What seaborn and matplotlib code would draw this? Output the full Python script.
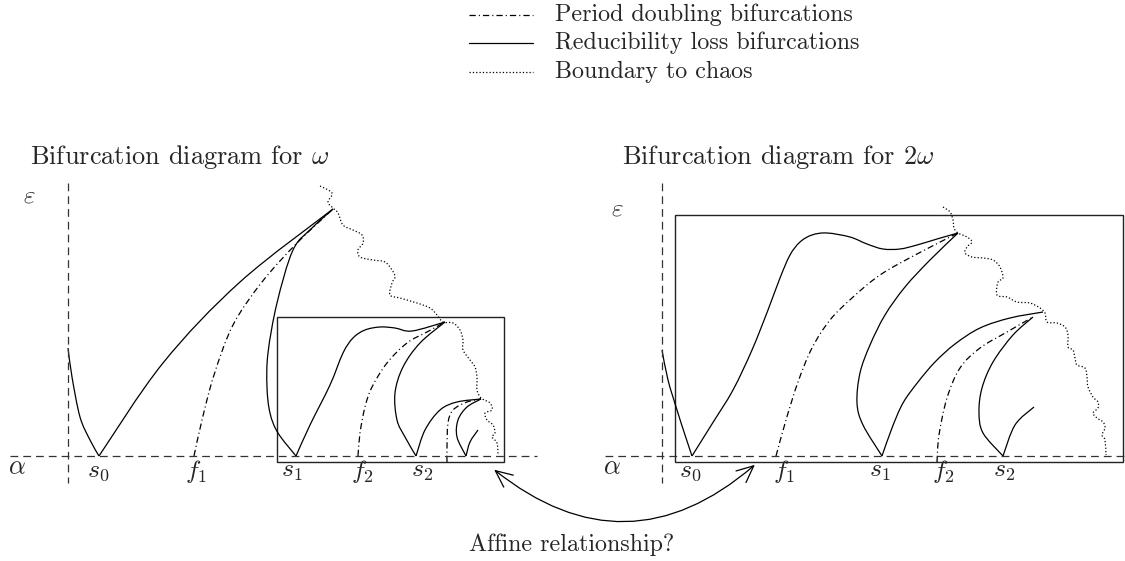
import numpy as np
import matplotlib
matplotlib.use("Agg")
import matplotlib.pyplot as plt
import seaborn as sns
from matplotlib.path import Path
from matplotlib.patches import PathPatch, Rectangle, FancyArrowPatch

# ---- chart data (pixel positions of the schematic, y grows downward) ----
legend_labels = ["Period doubling bifurcations",
                 "Reducibility loss bifurcations",
                 "Boundary to chaos"]
legend_y = [15, 43, 72]

left_title = r"Bifurcation diagram for $\omega$"
right_title = r"Bifurcation diagram for $2\omega$"

left_ticks = [r"$s_0$", r"$f_1$", r"$s_1$", r"$f_2$", r"$s_2$"]
left_tick_x = [98, 196, 292, 362, 422]
right_ticks = [r"$s_0$", r"$f_1$", r"$s_1$", r"$f_2$", r"$s_2$"]
right_tick_x = [690, 784, 880, 943, 1004]

# left diagram
left_s0_left = [(68, 348), (72, 377), (80, 417), (90, 440), (99, 456)]
left_s0_right = [(99, 456), (163, 363), (240, 282), (333, 209)]
left_f1 = [(194, 456), (202, 420), (214, 375), (233, 325), (262, 282),
           (297, 243), (333, 209)]
left_s1_left = [(333, 209), (312, 228), (293, 250), (277, 303), (268, 353),
                (267, 387), (270, 413), (278, 433), (296, 456)]
inset_s1_right = [(296, 456), (310, 425), (330, 385), (343, 353), (353, 338),
                  (365, 330), (380, 327), (395, 328), (412, 331), (445, 322)]
inset_f2 = [(358, 456), (360, 433), (365, 407), (372, 387), (387, 363),
            (407, 343), (427, 332), (445, 322)]
inset_s2_left = [(445, 322), (420, 343), (403, 367), (395, 393), (397, 420),
                 (405, 437), (416, 456)]
inset_s2_right = [(416, 456), (425, 430), (440, 410), (457, 402), (481, 399)]
inset_f3 = [(447, 462), (447, 447), (448, 423), (453, 410), (467, 402),
            (481, 399)]
inset_s3_left = [(481, 399), (467, 407), (458, 420), (457, 437), (466, 456)]
inset_s3_right = [(466, 456), (470, 442), (478, 430)]
left_boundary = [(320, 186), (332, 193), (328, 202), (333, 208), (338, 213),
                 (343, 225), (353, 230), (362, 235), (363, 243), (358, 250),
                 (360, 257), (373, 260), (385, 262), (392, 270), (395, 277),
                 (392, 283), (390, 295), (400, 298), (417, 303), (430, 308),
                 (437, 315), (443, 322), (453, 323), (460, 330), (463, 340),
                 (463, 350), (470, 360), (475, 367), (477, 377), (477, 390),
                 (481, 398), (490, 403), (492, 410), (485, 413), (487, 420),
                 (493, 425), (495, 433), (492, 437), (497, 443), (498, 455)]

# right diagram
right_s0_left = [(662, 350), (668, 380), (677, 410), (685, 435), (692, 456)]
right_s0_right = [(692, 456), (712, 424), (733, 390), (752, 350), (768, 310),
                  (780, 278), (790, 255), (800, 242), (812, 235), (827, 233),
                  (850, 237), (867, 244), (883, 249), (900, 249), (917, 245),
                  (937, 239), (958, 233)]
right_f1 = [(776, 456), (786, 420), (798, 382), (812, 348), (830, 320),
            (852, 298), (880, 275), (917, 254), (958, 233)]
right_s1_left = [(958, 233), (930, 260), (905, 287), (885, 315), (870, 345),
                 (860, 373), (857, 403), (863, 425), (882, 456)]
right_s1_right = [(882, 456), (892, 428), (903, 403), (918, 382), (935, 362),
                  (955, 344), (980, 328), (1010, 318), (1043, 312)]
right_f2 = [(937, 462), (939, 435), (947, 398), (960, 368), (980, 348),
            (1007, 332), (1033, 317)]
right_s2_left = [(1033, 317), (1013, 335), (993, 362), (982, 388), (979, 412),
                 (983, 433), (1003, 456)]
right_s2_right = [(1003, 456), (1015, 425), (1034, 407)]
right_boundary = [(943, 207), (950, 212), (953, 220), (954, 228), (958, 233),
                  (967, 237), (972, 242), (967, 247), (965, 253), (972, 257),
                  (983, 258), (993, 260), (1000, 267), (1003, 278), (998, 282),
                  (997, 295), (1007, 297), (1017, 302), (1030, 303), (1040, 308),
                  (1045, 313), (1047, 322), (1057, 323), (1065, 327), (1068, 335),
                  (1068, 347), (1073, 350), (1075, 358), (1077, 365), (1085, 368),
                  (1087, 377), (1088, 387), (1093, 397), (1098, 402), (1098, 408),
                  (1093, 413), (1097, 418), (1103, 422), (1105, 428), (1102, 435),
                  (1105, 440), (1106, 455)]

DASHDOT = (0, (4.5, 2.2, 0.8, 2.2))
DOTTED = (0, (0.9, 1.5))
DASHED = (0, (5.6, 3.6))
TXT = 17.3


def smooth(points):
    # catmull-rom through the points, as cubic bezier segments
    p = np.asarray(points, float)
    ext = np.vstack([p[0], p, p[-1]])
    verts = [p[0]]
    codes = [Path.MOVETO]
    for i in range(1, len(ext) - 2):
        p0, p1, p2, p3 = ext[i - 1], ext[i], ext[i + 1], ext[i + 2]
        verts += [p1 + (p2 - p0) / 6, p2 - (p3 - p1) / 6, p2]
        codes += [Path.CURVE4] * 3
    return Path(verts, codes)


def curve(ax, points, ls="-", lw=0.9):
    ax.add_patch(PathPatch(smooth(points), fill=False, edgecolor="black",
                           lw=lw, linestyle=ls, capstyle="butt"))


sns.set_theme(style="white")
plt.rcParams["lines.scale_dashes"] = False
plt.rcParams["font.family"] = ["cmr10", "DejaVu Serif"]
plt.rcParams["mathtext.fontset"] = "cm"
plt.rcParams["axes.formatter.use_mathtext"] = True

fig = plt.figure(figsize=(11.25, 5.61), dpi=100)
ax = fig.add_axes([0, 0, 1, 1])
ax.set_xlim(0, 1125)
ax.set_ylim(561, 0)
ax.axis("off")

# legend
styles = [DASHDOT, "-", DOTTED]
for lab, y, ls in zip(legend_labels, legend_y, styles):
    sns.lineplot(x=[469, 533], y=[y, y], color="black", lw=0.9,
                 linestyle=ls, ax=ax, estimator=None)
    ax.text(555, y, lab, fontsize=TXT, va="center", ha="left")

# axes of both diagrams
for x0, x1, vx in [(10, 537, 68), (605, 1125, 662)]:
    sns.lineplot(x=[x0, x1], y=[456, 456], color="#333333", lw=0.9,
                 linestyle=DASHED, ax=ax, estimator=None)
    sns.lineplot(x=[vx, vx], y=[183, 483], color="#333333", lw=0.9,
                 linestyle=DASHED, ax=ax, sort=False, estimator=None)

ax.text(30, 157, left_title, fontsize=19, va="center", ha="left")
ax.text(622, 157, right_title, fontsize=19, va="center", ha="left")
ax.text(29, 196, r"$\varepsilon$", fontsize=18, va="center", ha="center")
ax.text(617, 209, r"$\varepsilon$", fontsize=18, va="center", ha="center")
ax.text(17, 467, r"$\alpha$", fontsize=19, va="center", ha="center")
ax.text(612, 467, r"$\alpha$", fontsize=19, va="center", ha="center")
for lab, x in zip(left_ticks, left_tick_x):
    ax.text(x, 471, lab, fontsize=18.5, va="center", ha="center")
for lab, x in zip(right_ticks, right_tick_x):
    ax.text(x, 471, lab, fontsize=18.5, va="center", ha="center")

# boxes
ax.add_patch(Rectangle((277, 317), 227, 145, fill=False, edgecolor="#222222", lw=1.0))
ax.add_patch(Rectangle((675, 215), 448, 247, fill=False, edgecolor="#222222", lw=1.0))

# solid curves
for pts in [left_s0_left, left_s0_right, left_s1_left, inset_s1_right,
            inset_s2_left, inset_s2_right, inset_s3_left, inset_s3_right,
            right_s0_left, right_s0_right, right_s1_left, right_s1_right,
            right_s2_left, right_s2_right]:
    curve(ax, pts)
# period doubling
for pts in [left_f1, inset_f2, inset_f3, right_f1, right_f2]:
    curve(ax, pts, ls=DASHDOT)
# boundary to chaos
for pts in [left_boundary, right_boundary]:
    curve(ax, pts, ls=DOTTED)

arrow = FancyArrowPatch((492, 468), (757, 463), connectionstyle="arc3,rad=0.42",
                        arrowstyle="<->,head_length=0.55,head_width=0.25",
                        mutation_scale=22, lw=0.9, color="black")
ax.add_patch(arrow)
ax.text(572, 545, "Affine relationship?", fontsize=TXT, va="center", ha="center")

fig.savefig("out.png", dpi=100)
